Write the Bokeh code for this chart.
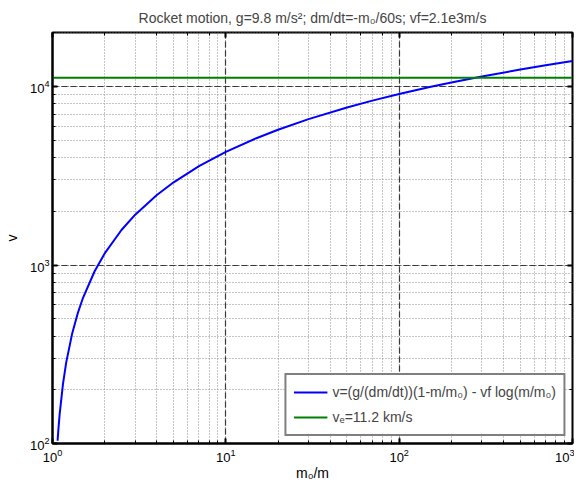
from bokeh.plotting import figure
from bokeh.models import LogAxis, LogTicker, Range1d, Legend, LegendItem, CustomJSTickFormatter
from bokeh.embed import file_html
from bokeh.resources import INLINE

# mass ratio m0/m and resulting velocity
ratio = [1.07, 1.08, 1.1, 1.15, 1.2, 1.3, 1.4, 1.5, 1.75, 2, 2.5, 3, 4, 5, 7, 10,
         15, 20, 30, 50, 70, 100, 150, 200, 300, 500, 700, 1000]
vel = [103.6, 118.1, 146.7, 216.8, 284.9, 415.3, 538.6, 655.5, 923.2, 1161.6, 1571.4,
       1915.1, 2470.2, 2909.4, 3582.4, 4306.2, 5138.1, 5732.4, 6574.1, 7639.0, 8342.2,
       9088.8, 9938.2, 10541.4, 11391.9, 12463.9, 13170.1, 13918.9]
ve = 11200.0
x_range = (1, 1000)
y_range = (100, 20100)

FONT = "Liberation Sans"

p = figure(x_axis_type="log", y_axis_type="log",
           frame_width=520, frame_height=411,
           x_range=Range1d(*x_range), y_range=Range1d(*y_range),
           output_backend="svg", toolbar_location=None,
           min_border_left=10, min_border_right=2, min_border_top=5, min_border_bottom=5,
           title="Rocket motion, g=9.8 m/s²; dm/dt=-m₀/60s; vf=2.1e3m/s")

p.title.align = "center"
p.title.text_font = FONT
p.title.text_font_size = "14px"
p.title.text_font_style = "normal"
p.title.standoff = 14

p.outline_line_color = "black"
p.outline_line_width = 2

for ax in (p.xaxis[0], p.yaxis[0]):
    ax.axis_line_width = 2
    ax.axis_line_color = "black"
    ax.major_tick_in = 5
    ax.major_tick_out = 0
    ax.minor_tick_in = 3
    ax.minor_tick_out = 0
    ax.major_tick_line_width = 2
    ax.minor_tick_line_width = 1
    ax.major_label_text_font = FONT
    ax.major_label_text_font_size = "13px"
    ax.major_label_text_color = "black"
    ax.axis_label_text_font = FONT
    ax.axis_label_text_font_size = "14px"
    ax.axis_label_text_font_style = "normal"
    ax.axis_label_text_color = "black"

p.yaxis[0].major_label_standoff = 3
p.yaxis[0].axis_label_standoff = 7
p.xaxis[0].major_label_standoff = 5
p.xaxis[0].axis_label_standoff = 0

p.xaxis.axis_label = "m₀/m"
p.yaxis.axis_label = "v"

blank = CustomJSTickFormatter(code="return ''")
for side in ("above", "right"):
    a = LogAxis(ticker=LogTicker(), formatter=blank)
    a.axis_line_color = None
    a.major_tick_in = 5
    a.major_tick_out = 0
    a.minor_tick_in = 3
    a.minor_tick_out = 0
    a.major_tick_line_width = 2
    a.major_label_standoff = 0
    a.major_label_text_font_size = "1px"
    p.add_layout(a, side)

for g in (p.xgrid[0], p.ygrid[0]):
    g.grid_line_color = "#3a3a3a"
    g.grid_line_dash = "6 3"
    g.grid_line_width = 1.2
    g.minor_grid_line_color = "#8a8a8a"
    g.minor_grid_line_dash = "1 2"
    g.minor_grid_line_width = 1

r1 = p.line(ratio, vel, line_color="#0000ff", line_width=2)
r2 = p.line(list(x_range), [ve, ve], line_color="#008000", line_width=2)

legend = Legend(items=[
    LegendItem(label="v=(g/(dm/dt))(1-m/m₀) - vf log(m/m₀)", renderers=[r1]),
    LegendItem(label="vₑ=11.2 km/s", renderers=[r2]),
], location="bottom_right")
legend.border_line_color = "black"
legend.border_line_width = 2
legend.label_text_font = FONT
legend.label_text_font_size = "14px"
legend.glyph_width = 34
legend.spacing = 5
legend.padding = 7
legend.margin = 7
legend.background_fill_alpha = 1
p.add_layout(legend)

open("out.html", "w").write(file_html(p, INLINE))
